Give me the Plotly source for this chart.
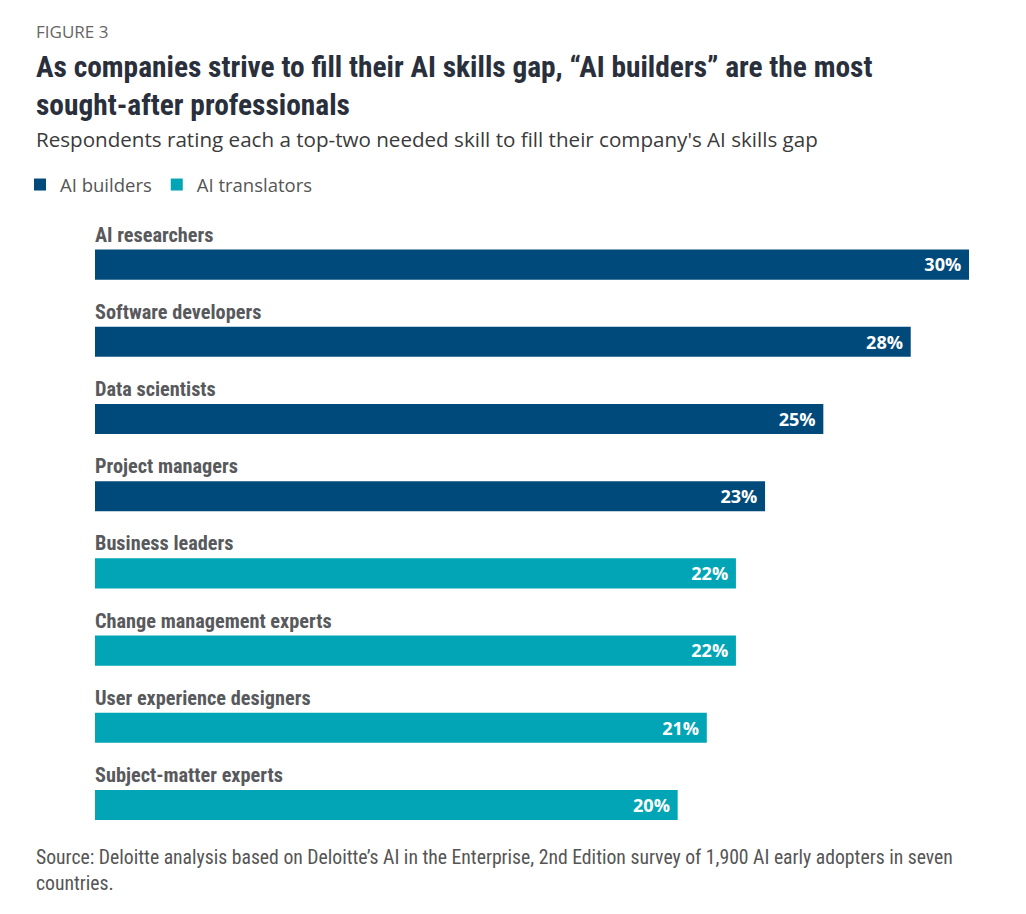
import plotly.graph_objects as go

# data
builder_roles = ["AI researchers", "Software developers", "Data scientists", "Project managers"]
builder_values = [30, 28, 25, 23]
translator_roles = ["Business leaders", "Change management experts",
                    "User experience designers", "Subject-matter experts"]
translator_values = [22, 22, 21, 20]

BUILDER_COLOR = "#004a7b"
TRANSLATOR_COLOR = "#02a5b5"
COND_FONT = "Liberation Sans Narrow, Roboto Condensed, Open Sans, sans-serif"

# page body adds an 8px offset, so layout is given in screen pixels minus 8
OFF = 8
W, H = 1026, 914
L, R, T, B = 95 - OFF, 57 + OFF, 226 - OFF, 65 + OFF
PW, PH = W - L - R, H - T - B


def px(x):
    """screen pixel x -> paper x"""
    return (x - OFF - L) / PW


def py(y):
    """screen pixel y -> paper y"""
    return 1 - (y - OFF - T) / PH


fig = go.Figure()
for name, roles, vals, col in [("AI builders", builder_roles, builder_values, BUILDER_COLOR),
                                ("AI translators", translator_roles, translator_values, TRANSLATOR_COLOR)]:
    fig.add_trace(go.Bar(
        x=vals, y=roles, name=name, orientation="h", width=0.39,
        marker=dict(color=col, line=dict(width=0)),
        text=[f"{v}%\u00a0" for v in vals], textposition="inside", insidetextanchor="end",
        textfont=dict(family="Open Sans", size=21, color="white", weight="bold"),
        cliponaxis=False,
    ))

all_roles = builder_roles + translator_roles
for role in all_roles:
    fig.add_annotation(x=0, y=role, xref="x", yref="y", text=role, showarrow=False,
                       xanchor="left", yanchor="bottom", yshift=16, xshift=-2,
                       font=dict(family=COND_FONT, size=20.3, color="#58595c", weight="bold"))

texts = [
    (32, "FIGURE 3", dict(family="Open Sans", size=17, color="#666666")),
    (86, "<b>As companies strive to fill their AI skills gap, “AI builders” are the most"
         "<br>sought-after professionals</b>",
     dict(family=COND_FONT, size=29.4, color="#2a2f3c")),
    (139, "Respondents rating each a top-two needed skill to fill their company's AI skills gap",
     dict(family="Open Sans", size=20.6, color="#3a3a3a")),
    (870, "Source: Deloitte analysis based on Deloitte’s AI in the Enterprise, 2nd Edition survey of "
          "1,900 AI early adopters in seven<br>countries.",
     dict(family=COND_FONT, size=19.7, color="#555555")),
]
for ypix, txt, fnt in texts:
    fig.add_annotation(x=px(34), y=py(ypix), xref="paper", yref="paper", text=txt,
                       showarrow=False, xanchor="left", yanchor="middle", align="left", font=fnt)

fig.update_layout(
    width=W, height=H, margin=dict(l=L, r=R, t=T, b=B),
    paper_bgcolor="white", plot_bgcolor="white",
    barmode="overlay", showlegend=True,
    legend=dict(orientation="h", x=px(20), y=py(185), xanchor="left", yanchor="middle",
                font=dict(family="Open Sans", size=18.5, color="#555555"),
                itemwidth=30, tracegroupgap=0, traceorder="normal"),
    xaxis=dict(range=[0, 30], visible=False, fixedrange=True),
    yaxis=dict(categoryorder="array", categoryarray=all_roles, autorange="reversed",
               visible=False, fixedrange=True),
)

fig.write_html("out.html")
